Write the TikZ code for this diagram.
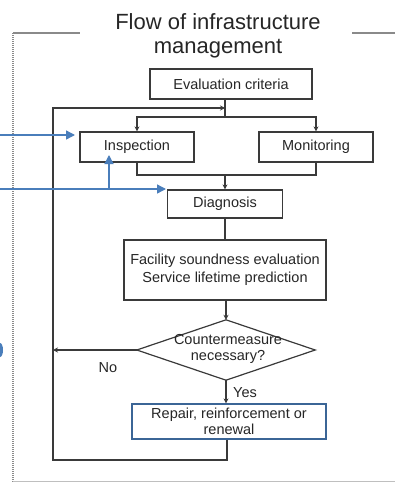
\documentclass[tikz,border=0pt]{standalone}
\usepackage{fontspec}
\setmainfont{Liberation Sans}
\usetikzlibrary{arrows.meta}
\definecolor{lineblk}{HTML}{3A3A3A}
\definecolor{offblue}{HTML}{4A7EBB}
\definecolor{framegray}{HTML}{8A8A8A}
\begin{document}
\begin{tikzpicture}[x=1pt,y=-1pt,
  box/.style={draw=lineblk,line width=1.2pt,inner sep=0pt,align=center,
    font=\fontsize{14.5}{18}\selectfont,text=black!85},
  conn/.style={draw=lineblk,line width=1.3pt},
  arr/.style={conn,-{Stealth[length=5pt,width=5pt]}},
  barr/.style={draw=offblue,line width=1.4pt,-{Triangle[length=9pt,width=9pt]}},
  bline/.style={draw=offblue,line width=1.4pt},
  lbl/.style={font=\fontsize{14.5}{18}\selectfont,text=black!85,inner sep=0pt},
  ttl/.style={font=\fontsize{22}{24}\selectfont,text=black!85,inner sep=0pt,anchor=base}]
\useasboundingbox (0,0) rectangle (395,482);
\fill[white] (0,0) rectangle (395,482);
% frame
\draw[framegray,line width=1.5pt] (13,33) -- (80,33);
\draw[framegray,line width=1.5pt] (352,33) -- (395,33);
\draw[framegray,line width=1.2pt,dash pattern=on 1pt off 1pt] (13,33) -- (13,482);
\draw[black!25,line width=0.8pt] (13,481) -- (395,481);
% title
\node[ttl] (t1) at (218,29) {Flow of infrastructure};
\node[ttl] (t2) at (218,53) {management};
% boxes
\node[box,minimum width=162pt,minimum height=30pt] (eval) at (231,84) {Evaluation criteria};
\node[box,minimum width=114pt,minimum height=30pt] (insp) at (137,147) {Inspection};
\node[box,minimum width=114pt,minimum height=30pt] (mon) at (316,147) {Monitoring};
\node[box,minimum width=115pt,minimum height=28pt] (diag) at (225,204) {Diagnosis};
\node[box,minimum width=202pt,minimum height=60pt] (fac) at (225,270) {Facility soundness evaluation\\Service lifetime prediction};
\node[inner sep=0pt,minimum width=178pt,minimum height=60pt] (dia) at (226,350) {};
\draw[lineblk,line width=1.2pt] (dia.north) -- (dia.east) -- (dia.south) -- (dia.west) -- cycle;
\node[lbl,align=center,font=\fontsize{14.5}{16}\selectfont] (diat) at (228,349) {Countermeasure\\necessary?};
\node[box,draw=offblue!80!black,minimum width=194pt,minimum height=35pt,font=\fontsize{14.5}{16}\selectfont] (rep) at (229,421.5) {Repair, reinforcement or\\renewal};
% junctions
\coordinate (j1) at (225,108);
\coordinate (j2) at (225,117);
\coordinate (j3) at (225,175);
\coordinate (jL) at (53,350);
\coordinate (b1) at (227,460);
\coordinate (b2) at (53,460);
\coordinate (b3) at (53,108);
% connectors
\draw[conn] (j1 |- eval.south) -- (j2);
\draw[arr] (j2) -| (insp.north);
\draw[arr] (j2) -| (mon.north);
\draw[conn] (insp.south) |- (j3);
\draw[conn] (mon.south) |- (j3);
\draw[arr] (j3) -- (diag.north);
\draw[conn] (diag.south) -- (fac.north);
\draw[arr] (fac.south -| dia.north) -- (dia.north);
\draw[arr] (dia.west) -- (jL);
\draw[arr] (dia.south) -- (dia.south |- rep.north);
\draw[arr] (b1 |- rep.south) -- (b1) -- (b2) -- (b3) -- (j1);
\node[lbl] (no) at (108,368) {No};
\node[lbl] (yes) at (245,393) {Yes};
% blue arrows
\coordinate (s1) at (0,135);
\coordinate (e1) at (75,135);
\coordinate (s2) at (0,189);
\coordinate (e2) at (166,189);
\coordinate (m2) at (109,189);
\coordinate (u2) at (109,155);
\draw[barr] (s1) -- (e1);
\draw[barr] (s2) -- (e2);
\draw[barr] (m2) -- (u2);
\fill[offblue] (0,350) ellipse (3pt and 7pt);
\end{tikzpicture}
\end{document}
